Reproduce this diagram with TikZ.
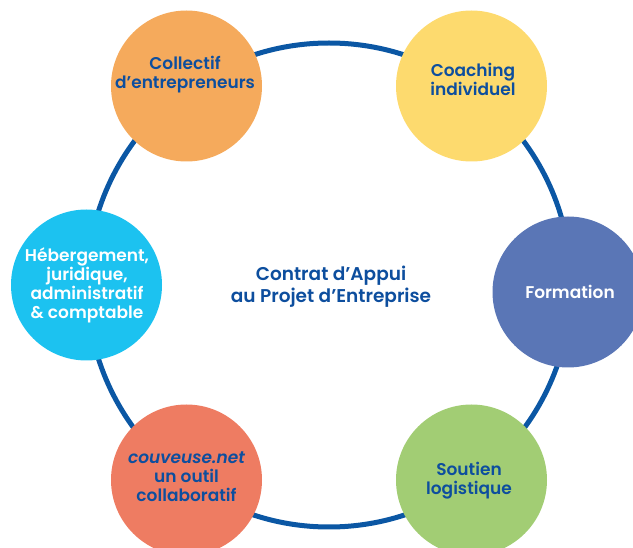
\documentclass[tikz,border=0pt]{standalone}
\usepackage{fontspec}
\setmainfont{Poppins}[BoldFont={Poppins SemiBold},ItalicFont={Poppins Italic},BoldItalicFont={Poppins SemiBold Italic}]
\definecolor{ringblue}{HTML}{0B57A4}
\definecolor{txtblue}{HTML}{0D4E9E}
\definecolor{corange}{HTML}{F5AA5C}
\definecolor{cyellow}{HTML}{FDDA6E}
\definecolor{cpurple}{HTML}{5A76B6}
\definecolor{cgreen}{HTML}{A2CD74}
\definecolor{cred}{HTML}{EE7C62}
\definecolor{ccyan}{HTML}{1CC2F0}
\tikzset{
  bubble/.style={circle, minimum size=151pt, inner sep=0pt},
  label/.style={align=center, inner sep=0pt, font=\fontsize{17}{19}\selectfont\bfseries, text=txtblue},
  ring/.style={line width=5pt, draw=ringblue}
}
\begin{document}
\begin{tikzpicture}[x=1pt,y=-1pt]
\useasboundingbox (0,0) rectangle (633,548);
\coordinate (ctr) at (329,285);
\draw[ring] (ctr) circle (242pt);
\node[bubble, fill=corange] (collectif) at (186.5,86) {};
\node[bubble, fill=cyellow] (coaching) at (471.5,86) {};
\node[bubble, fill=cpurple] (formation) at (568,292) {};
\node[bubble, fill=cgreen] (soutien) at (471.5,480) {};
\node[bubble, fill=cred] (couveuse) at (186.5,480) {};
\node[bubble, fill=ccyan] (heberg) at (86.5,285) {};
\node[label] (tcollectif) at (185,75) {Collectif\\d’entrepreneurs};
\node[label] (tcoaching) at (473,79) {Coaching\\individuel};
\node[label, text=white] (tformation) at (570,292) {Formation};
\node[label] (tsoutien) at (469,481) {Soutien\\logistique};
\node[label] (tcouveuse) at (186.5,477) {\itshape couveuse.net\\un outil\\collaboratif};
\node[label, text=white] (theberg) at (87,285) {Hébergement,\\juridique,\\administratif\\\& comptable};
\node[label, font=\fontsize{18.5}{22}\selectfont\bfseries] (center) at (331,287) {Contrat d’Appui\\au Projet d’Entreprise};
\end{tikzpicture}
\end{document}
